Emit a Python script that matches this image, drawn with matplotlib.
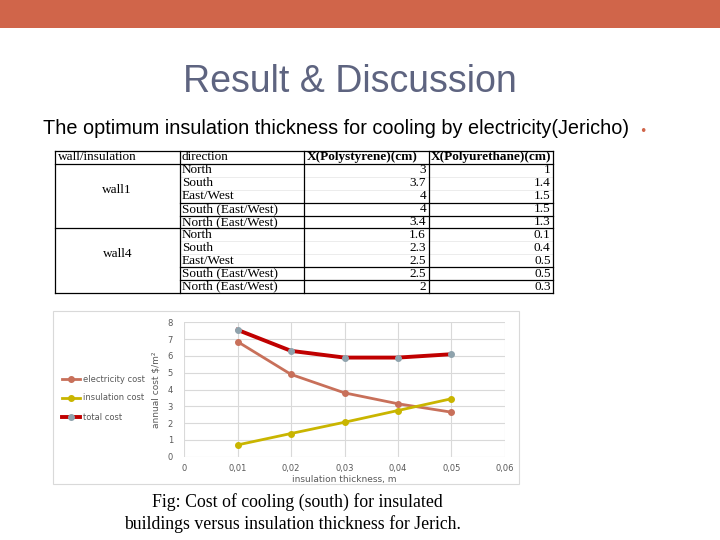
import matplotlib
matplotlib.use("Agg")
import matplotlib.pyplot as plt
from matplotlib.patches import Rectangle

W, H = 720, 540

# table data
walls = ["wall1", "wall4"]
directions = ["North", "South", "East/West", "South (East/West)", "North (East/West)"]
x_polystyrene = ["3", "3.7", "4", "4", "3.4", "1.6", "2.3", "2.5", "2.5", "2"]
x_polyurethane = ["1", "1.4", "1.5", "1.5", "1.3", "0.1", "0.4", "0.5", "0.5", "0.3"]
headers = ["wall/insulation", "direction", "X(Polystyrene)(cm)", "X(Polyurethane)(cm)"]

# chart data
thickness = [0.01, 0.02, 0.03, 0.04, 0.05]
electricity_cost = [6.85, 4.9, 3.8, 3.15, 2.65]
insulation_cost = [0.7, 1.38, 2.05, 2.75, 3.45]
total_cost = [7.55, 6.3, 5.9, 5.9, 6.1]
x_ticks = [0, 0.01, 0.02, 0.03, 0.04, 0.05, 0.06]
x_tick_labels = ["0", "0,01", "0,02", "0,03", "0,04", "0,05", "0,06"]


def box(l, t, r, b):
    return [l / W, 1 - b / H, (r - l) / W, (b - t) / H]


fig = plt.figure(figsize=(7.2, 5.4), dpi=100)
fig.patch.set_facecolor("white")

# top bar
fig.patches.append(Rectangle((0, 1 - 28 / H), 1, 28 / H, transform=fig.transFigure,
                             facecolor="#D0654A", edgecolor="none", zorder=-2))
fig.text(350 / W, 1 - 82 / H, "Result & Discussion", ha="center", va="center",
         fontsize=27, color="#5E6480", family="Liberation Sans")
fig.text(43 / W, 1 - 128 / H, "The optimum insulation thickness for cooling by electricity(Jericho)",
         ha="left", va="center", fontsize=14.3, color="black", family="Liberation Sans")
fig.text(643 / W, 1 - 131 / H, "•", ha="center", va="center", fontsize=9, color="#D0654A")

# ---- table ----
tax = fig.add_axes(box(55, 151, 553, 293))
tax.set_xlim(0, 4)
tax.set_ylim(11, 0)
tax.axis("off")
for y in [0, 1, 6, 11]:
    tax.plot([0, 4], [y, y], color="black", lw=0.9, clip_on=False)
for y in [4, 5, 9, 10]:
    tax.plot([1, 4], [y, y], color="black", lw=0.9, clip_on=False)
for y in [2, 3, 7, 8]:
    tax.plot([1, 4], [y, y], color="#E5E5E5", lw=0.5, clip_on=False)
for x in [0, 1, 2, 3, 4]:
    tax.plot([x, x], [0, 11], color="black", lw=0.9, clip_on=False)

tfont = dict(family="Liberation Serif", fontsize=9.5, va="center")
for i, h in enumerate(headers):
    tax.text(i + 0.02, 0.5, h, ha="left", fontweight="bold" if i >= 2 else "normal", **tfont)
for k, w in enumerate(walls):
    tax.text(0.5, 3.0 + 5 * k, w, ha="center", **tfont)
    for j, d in enumerate(directions):
        r = 1 + 5 * k + j
        tax.text(1.02, r + 0.5, d, ha="left", **tfont)
        tax.text(2.98, r + 0.5, x_polystyrene[5 * k + j], ha="right", **tfont)
        tax.text(3.98, r + 0.5, x_polyurethane[5 * k + j], ha="right", **tfont)

# ---- chart ----
fig.patches.append(Rectangle((53 / W, 1 - 484 / H), (519 - 53) / W, (484 - 311) / H,
                             transform=fig.transFigure, facecolor="white",
                             edgecolor="#D9D9D9", lw=0.8, zorder=-2))
ax = fig.add_axes(box(184, 322.3, 505, 456.7))
ax.patch.set_alpha(0)
ax.plot(thickness, electricity_cost, color="#C8705A", lw=2, marker="o", ms=4,
        label="electricity cost")
ax.plot(thickness, insulation_cost, color="#C9B500", lw=2, marker="o", ms=4,
        label="insulation cost")
ax.plot(thickness, total_cost, color="#C00000", lw=2.8, marker="o", ms=4,
        markerfacecolor="#8FA3AD", markeredgecolor="#8FA3AD", label="total cost")
ax.set_xlim(0, 0.06)
ax.set_ylim(0, 8)
ax.set_xticks(x_ticks)
ax.set_xticklabels(x_tick_labels)
ax.set_yticks(range(0, 9))
ax.grid(True, color="#D9D9D9", lw=0.8)
ax.set_axisbelow(True)
for s in ax.spines.values():
    s.set_visible(False)
ax.tick_params(length=0, labelsize=6, colors="#595959")
ax.tick_params(axis="x", pad=5)
ax.tick_params(axis="y", pad=8)
ax.set_xlabel("insulation thickness, m", fontsize=6.5, color="#595959", labelpad=2)
ax.set_ylabel("annual cost $/m²", fontsize=6.5, color="#595959", labelpad=5)
fig.legend(loc="center left", bbox_to_anchor=(54 / W, 1 - 398 / H), frameon=False,
           fontsize=6, labelspacing=1.2, handlelength=2.2, handletextpad=0.4,
           labelcolor="#595959")

# caption
cap = dict(family="Liberation Serif", fontsize=12.8, ha="center", va="center", color="black")
fig.text(297 / W, 1 - 502 / H, "Fig: Cost of cooling (south) for insulated", **cap)
fig.text(293 / W, 1 - 524 / H, "buildings versus insulation thickness for Jerich.", **cap)

fig.savefig("out.png", dpi=100)
